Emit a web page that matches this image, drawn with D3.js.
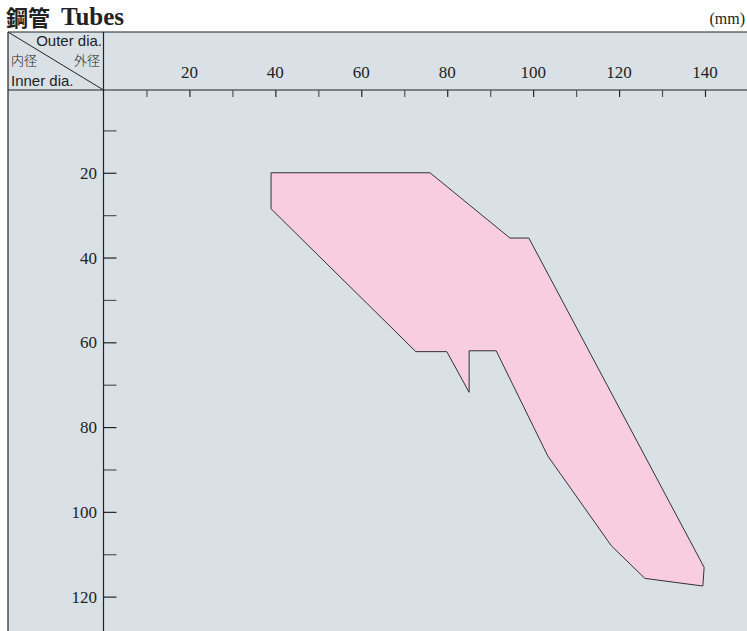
<!DOCTYPE html>
<html lang="ja">
  <head>
    <meta charset="utf-8" />
    <script src="https://d3js.org/d3.v7.min.js"></script>
    <style>
      body { margin: 0; background: #fff; }
    </style>
    <title>Tubes</title>
  </head>
  <body>
    <svg id="chart" width="747" height="631"></svg>
    <script>
      // outline of the usable range (mm)
      const outerDia = [39, 76, 94.6, 99, 139.8, 139.5, 126, 118.2, 103.4, 91.4, 85.1, 85.1, 79.9, 72.7, 39];
      const innerDia = [20, 20, 35.4, 35.4, 113.1, 117.5, 115.7, 108, 86.8, 62, 62, 71.8, 62.2, 62.2, 28.5];

      const outerMajor = [20, 40, 60, 80, 100, 120, 140];
      const outerMinor = [10, 30, 50, 70, 90, 110, 130];
      const innerMajor = [20, 40, 60, 80, 100, 120];
      const innerMinor = [10, 30, 50, 70, 90, 110];

      const svg = d3.select("svg#chart");
      const W = +svg.attr("width");
      const H = +svg.attr("height");

      const panelLeft = 8, panelTop = 32, axisX = 103.5, axisY = 90;

      const x = d3.scaleLinear().domain([0, 140]).range([103.5, 705]);
      const y = d3.scaleLinear().domain([0, 130]).range([88, 639]);

      const serif = "'Liberation Serif', 'DejaVu Serif', serif";
      const sans = "'Liberation Sans', Arial, sans-serif";
      const cjk = "'Noto Sans CJK JP', sans-serif";

      // background panel
      svg.append("rect")
        .attr("x", panelLeft).attr("y", panelTop)
        .attr("width", W - panelLeft).attr("height", H - panelTop)
        .attr("fill", "#d9e1e7");

      // region
      const pts = outerDia.map((d, i) => [x(d), y(innerDia[i])]);
      svg.append("path")
        .attr("d", d3.line()(pts) + "Z")
        .attr("fill", "#f8cde0")
        .attr("stroke", "#333")
        .attr("stroke-width", 1)
        .attr("stroke-linejoin", "miter");

      // frame lines
      const frame = svg.append("g").attr("stroke", "#222").attr("stroke-width", 1.2);
      frame.append("line").attr("x1", panelLeft).attr("x2", W).attr("y1", panelTop).attr("y2", panelTop);
      frame.append("line").attr("x1", panelLeft).attr("x2", panelLeft).attr("y1", panelTop).attr("y2", H);
      frame.append("line").attr("x1", panelLeft).attr("x2", W).attr("y1", axisY).attr("y2", axisY);
      frame.append("line").attr("x1", axisX).attr("x2", axisX).attr("y1", panelTop).attr("y2", H);
      frame.append("line").attr("x1", panelLeft).attr("y1", panelTop).attr("x2", axisX).attr("y2", axisY)
        .attr("stroke-width", 1);

      // top axis (outer dia.)
      const xAxis = d3.axisBottom(x).tickValues(outerMajor).tickSize(7).tickFormat("");
      const xg = svg.append("g").attr("transform", `translate(0,${axisY})`).call(xAxis);
      xg.select(".domain").remove();
      xg.selectAll("line").attr("stroke", "#222").attr("stroke-width", 1.2);

      const xMinor = d3.axisBottom(x).tickValues(outerMinor).tickSize(7).tickFormat("");
      const xmg = svg.append("g").attr("transform", `translate(0,${axisY})`).call(xMinor);
      xmg.select(".domain").remove();
      xmg.selectAll("line").attr("stroke", "#555").attr("stroke-width", 1.2);

      svg.append("g")
        .selectAll("text")
        .data(outerMajor)
        .join("text")
        .attr("x", d => x(d))
        .attr("y", 78)
        .attr("text-anchor", "middle")
        .attr("font-family", serif)
        .attr("font-size", "17px")
        .attr("fill", "#222")
        .text(d => d);

      // left axis (inner dia.)
      const yAxis = d3.axisRight(y).tickValues(innerMajor).tickSize(13).tickFormat("");
      const yg = svg.append("g").attr("transform", `translate(${axisX},0)`).call(yAxis);
      yg.select(".domain").remove();
      yg.selectAll("line").attr("stroke", "#222").attr("stroke-width", 1.2);

      const yMinor = d3.axisRight(y).tickValues(innerMinor).tickSize(13).tickFormat("");
      const ymg = svg.append("g").attr("transform", `translate(${axisX},0)`).call(yMinor);
      ymg.select(".domain").remove();
      ymg.selectAll("line").attr("stroke", "#555").attr("stroke-width", 1.2);

      svg.append("g")
        .selectAll("text")
        .data(innerMajor)
        .join("text")
        .attr("x", 97)
        .attr("y", d => y(d))
        .attr("dy", "0.36em")
        .attr("text-anchor", "end")
        .attr("font-family", serif)
        .attr("font-size", "17px")
        .attr("fill", "#222")
        .text(d => d);

      // header cell labels
      svg.append("text").attr("x", 102).attr("y", 46).attr("text-anchor", "end")
        .attr("font-family", sans).attr("font-size", "15px").attr("fill", "#222")
        .text("Outer dia.");
      svg.append("text").attr("x", 11).attr("y", 65)
        .attr("font-family", cjk).attr("font-size", "13px").attr("font-weight", 300).attr("fill", "#222")
        .text("内径");
      svg.append("text").attr("x", 100).attr("y", 65).attr("text-anchor", "end")
        .attr("font-family", cjk).attr("font-size", "13px").attr("font-weight", 300).attr("fill", "#222")
        .text("外径");
      svg.append("text").attr("x", 11).attr("y", 86)
        .attr("font-family", sans).attr("font-size", "15px").attr("fill", "#222")
        .text("Inner dia.");

      // title and unit
      svg.append("text").attr("x", 6).attr("y", 26)
        .attr("font-family", cjk).attr("font-size", "22px").attr("font-weight", "bold").attr("fill", "#222")
        .text("鋼管");
      svg.append("text").attr("x", 61).attr("y", 25)
        .attr("font-family", serif).attr("font-size", "25px").attr("font-weight", "bold").attr("fill", "#222")
        .text("Tubes");

      svg.append("text").attr("x", 745).attr("y", 24).attr("text-anchor", "end")
        .attr("font-family", serif).attr("font-size", "16px").attr("fill", "#222")
        .text("(mm)");
    </script>
  </body>
</html>
